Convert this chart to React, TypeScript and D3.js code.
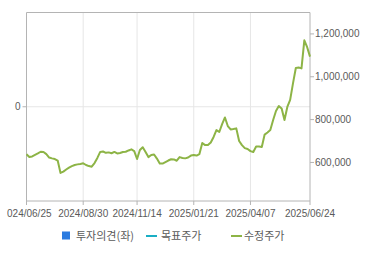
import React from "react";
import * as d3 from "d3";

const prices: number[] = [
  638000, 625000, 628000, 635000, 642000, 650000, 649000, 639000, 623000, 619000,
  616000, 609000, 551000, 557000, 567000, 576000, 583000, 588000, 591000, 593000,
  596000, 588000, 583000, 580000, 597000, 621000, 649000, 651000, 645000, 647000,
  643000, 649000, 642000, 644000, 649000, 650000, 656000, 661000, 653000, 616000,
  658000, 671000, 649000, 625000, 635000, 637000, 618000, 595000, 595000, 602000,
  609000, 615000, 614000, 608000, 625000, 621000, 619000, 623000, 632000, 635000,
  632000, 639000, 691000, 681000, 681000, 693000, 719000, 751000, 742000, 779000,
  810000, 770000, 754000, 756000, 759000, 700000, 681000, 667000, 663000, 653000,
  649000, 674000, 674000, 672000, 730000, 740000, 751000, 798000, 840000, 863000,
  852000, 798000, 859000, 892000, 969000, 1041000, 1043000, 1039000, 1170000, 1138000,
  1094000,
];

const tickLabels: string[] = ["2024/06/25", "2024/08/30", "2024/11/14", "2025/01/21", "2025/04/07", "2025/06/24"];
const tickIndex: number[] = [0, 20, 39, 59, 79, 100];
const rightTicks: number[] = [600000, 800000, 1000000, 1200000];
const leftTicks: number[] = [0];
const legendItems: string[] = ["투자의견(좌)", "목표주가", "수정주가"];

const W = 370;
const H = 255;
const L = 26.5;
const R = 310;
const T = 12.5;
const B = 201;

const numFont = "'Liberation Sans', Arial, sans-serif";
const krFont = "'Noto Sans CJK KR', sans-serif";
const textColor = "#5a5a5a";
const green = "#8db446";

export default function App() {
  const x = d3.scaleLinear().domain([0, prices.length - 1]).range([L, R]);
  const yR = d3.scaleLinear().domain([420000, 1300000]).range([B, T]);
  const yL = d3.scaleLinear().domain([-1, 1]).range([B, T]);
  const line = d3
    .line<number>()
    .x((_, i) => x(i))
    .y((d) => yR(d));
  const fmt = d3.format(",");

  return (
    <svg
      width={W}
      height={H}
      style={{ position: "absolute", left: 0, top: 0, background: "#fff" }}
    >
      <defs>
        <clipPath id="xclip">
          <rect x={7} y={0} width={W} height={H} />
        </clipPath>
      </defs>
      {tickIndex.slice(1, -1).map((t, i) => (
        <line key={"vg" + i} x1={x(t)} x2={x(t)} y1={T} y2={B} stroke="#e6e6e6" strokeWidth={1} />
      ))}
      {leftTicks.map((t, i) => (
        <line key={"hg" + i} x1={L} x2={R} y1={yL(t)} y2={yL(t)} stroke="#e6e6e6" strokeWidth={1} />
      ))}
      <line x1={L} x2={R} y1={T} y2={T} stroke="#b4b4b4" />
      <line x1={L} x2={L} y1={T} y2={B} stroke="#b4b4b4" />
      <line x1={R} x2={R} y1={T} y2={B} stroke="#b4b4b4" />
      <line x1={L} x2={R} y1={B} y2={B} stroke="#b4b4b4" />
      {tickIndex.map((t, i) => (
        <line key={"xt" + i} x1={x(t)} x2={x(t)} y1={B} y2={B + 4} stroke="#b4b4b4" />
      ))}
      <g clipPath="url(#xclip)">
        {tickIndex.map((t, i) => (
          <text
            key={"xl" + i}
            x={x(t)}
            y={B + 16}
            textAnchor="middle"
            fontFamily={numFont}
            fontSize={10}
            fill={textColor}
          >
            {tickLabels[i]}
          </text>
        ))}
      </g>
      {rightTicks.map((t, i) => (
        <g key={"rt" + i}>
          <line x1={R} x2={R + 4} y1={yR(t)} y2={yR(t)} stroke="#b4b4b4" />
          <text x={R + 5} y={yR(t) + 3.5} fontFamily={numFont} fontSize={10} fill={textColor}>
            {fmt(t)}
          </text>
        </g>
      ))}
      {leftTicks.map((t, i) => (
        <g key={"lt" + i}>
          <line x1={L - 4} x2={L} y1={yL(t)} y2={yL(t)} stroke="#b4b4b4" />
          <text
            x={L - 6}
            y={yL(t) + 3.5}
            textAnchor="end"
            fontFamily={numFont}
            fontSize={10}
            fill={textColor}
          >
            {fmt(t)}
          </text>
        </g>
      ))}
      <path d={line(prices) || ""} fill="none" stroke={green} strokeWidth={2} strokeLinejoin="round" />
      <rect x={62} y={231.5} width={8} height={8} fill="#2b7be0" />
      <text x={76} y={240} fontFamily={krFont} fontSize={11} fill={textColor}>
        {legendItems[0]}
      </text>
      <line x1={146} x2={157} y1={236} y2={236} stroke="#1aaec4" strokeWidth={2} />
      <text x={161} y={240} fontFamily={krFont} fontSize={11} fill={textColor}>
        {legendItems[1]}
      </text>
      <line x1={231} x2={242} y1={236} y2={236} stroke={green} strokeWidth={2} />
      <text x={244} y={240} fontFamily={krFont} fontSize={11} fill={textColor}>
        {legendItems[2]}
      </text>
    </svg>
  );
}
